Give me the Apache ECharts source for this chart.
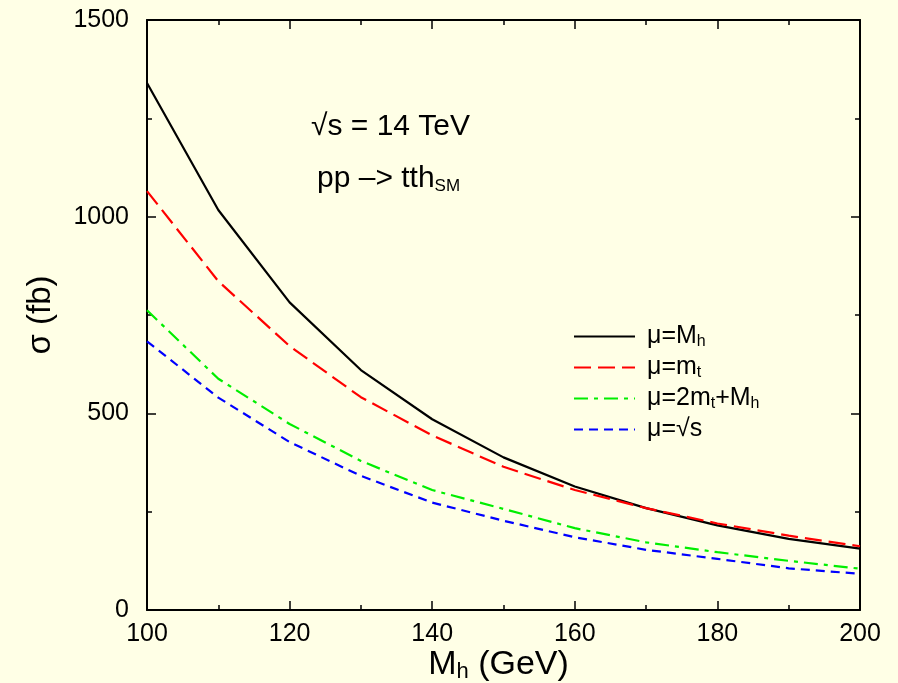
<!DOCTYPE html>
<html>
<head>
<meta charset="utf-8">
<script src="https://cdn.jsdelivr.net/npm/echarts@6/dist/echarts.min.js"></script>
<style>
  html, body { margin: 0; padding: 0; background: #ffffe6; }
  #chart { width: 898px; height: 683px; }
</style>
</head>
<body>
<div id="chart"></div>
<script>
// Higgs mass points (GeV)
const higgsMass = [100, 110, 120, 130, 140, 150, 160, 170, 180, 190, 200];
// Cross sections (fb) for each renormalisation/factorisation scale choice
const sigmaMuMh = [1340, 1017, 782, 610, 485, 388, 314, 259, 215, 181, 156];
const sigmaMuMt = [1065, 836, 671, 541, 444, 364, 305, 259, 220, 189, 162];
const sigmaMu2MtMh = [762, 588, 473, 379, 305, 257, 208, 172, 147, 125, 105];
const sigmaMuSqrtS = [683, 540, 427, 341, 273, 227, 185, 153, 130, 106, 92];
// Axis ticks
const xTicks = [100, 120, 140, 160, 180, 200];
const yTicks = [0, 500, 1000, 1500];

const FONT = '"Liberation Sans", Arial, Helvetica, sans-serif';

const seriesDefs = [
  { name: 'mu_Mh', label: '{a|μ=M}{s|h}', data: sigmaMuMh, color: '#000000', type: 'solid' },
  { name: 'mu_mt', label: '{a|μ=m}{s|t}', data: sigmaMuMt, color: '#ff0000', type: [17, 7] },
  { name: 'mu_2mt_Mh', label: '{a|μ=2m}{s|t}{a|+M}{s|h}', data: sigmaMu2MtMh, color: '#00ee00', type: [14, 6, 4, 6] },
  { name: 'mu_sqrts', label: '{a|μ=√s}', data: sigmaMuSqrtS, color: '#0000ff', type: [9, 6] }
];
const legendLabels = {};
seriesDefs.forEach(d => { legendLabels[d.name] = d.label; });

const chart = echarts.init(document.getElementById('chart'), null, { renderer: 'canvas' });

function axisCommon() {
  return {
    axisLine: { show: true, onZero: false, lineStyle: { color: '#000', width: 2 } },
    axisTick: { show: true, inside: true, length: 9, lineStyle: { color: '#000', width: 1.5 } },
    minorTick: { show: true, splitNumber: 2, length: 5, lineStyle: { color: '#000', width: 1.5 } },
    splitLine: { show: false },
    minorSplitLine: { show: false }
  };
}

chart.setOption({
  backgroundColor: '#ffffe6',
  animation: false,
  grid: { left: 147, right: 38, top: 20, bottom: 73, containLabel: false, outerBoundsMode: 'none' },
  xAxis: [
    Object.assign({
      type: 'value', min: 100, max: 200, interval: 20, position: 'bottom',
      name: '{a|M}{s|h}{a| (GeV)}',
      nameLocation: 'middle', nameGap: 37, nameMoveOverlap: false,
      nameTextStyle: {
        fontFamily: FONT, color: '#000', padding: [0, 10, 0, 0],
        rich: {
          a: { fontFamily: FONT, fontSize: 34, lineHeight: 36, color: '#000' },
          s: { fontFamily: FONT, fontSize: 22, lineHeight: 22, color: '#000', verticalAlign: 'bottom', padding: [18, 0, 0, 0] }
        }
      },
      axisLabel: {
        show: true, margin: 12, fontFamily: FONT, fontSize: 25, color: '#000',
        customValues: xTicks, formatter: v => String(v)
      }
    }, axisCommon()),
    Object.assign({
      type: 'value', min: 100, max: 200, interval: 20, position: 'top',
      axisLabel: { show: false }
    }, axisCommon())
  ],
  yAxis: [
    Object.assign({
      type: 'value', min: 0, max: 1500, interval: 500, position: 'left',
      name: 'σ (fb)', nameLocation: 'middle', nameGap: 90, nameRotate: 90,
      nameMoveOverlap: false,
      nameTextStyle: { fontFamily: FONT, fontSize: 33, color: '#000' },
      axisLabel: {
        show: true, margin: 18, fontFamily: FONT, fontSize: 25, color: '#000',
        customValues: yTicks, formatter: v => String(v)
      }
    }, axisCommon()),
    Object.assign({
      type: 'value', min: 0, max: 1500, interval: 500, position: 'right',
      axisLabel: { show: false }
    }, axisCommon())
  ],
  legend: {
    show: true, orient: 'vertical', left: 573, top: 324, padding: 0,
    itemWidth: 61, itemHeight: 14, itemGap: 5,
    itemStyle: { opacity: 0 },
    data: seriesDefs.map(d => d.name),
    formatter: name => legendLabels[name],
    textStyle: {
      fontFamily: FONT, fontSize: 25, color: '#000', padding: [0, 0, 0, 7],
      rich: {
        a: { fontFamily: FONT, fontSize: 25, lineHeight: 27, color: '#000' },
        s: { fontFamily: FONT, fontSize: 16, lineHeight: 16, color: '#000', verticalAlign: 'bottom', padding: [8, 0, 0, 0] }
      }
    }
  },
  graphic: [
    {
      type: 'text', left: 311, top: 112,
      style: { text: '√s = 14 TeV', font: '30px ' + FONT, fill: '#000' }
    },
    {
      type: 'text', left: 317, top: 163,
      style: {
        text: '{a|pp –> tth}{s|SM}',
        fill: '#000',
        rich: {
          a: { fontFamily: FONT, fontSize: 30, lineHeight: 32, fill: '#000' },
          s: { fontFamily: FONT, fontSize: 17, lineHeight: 17, fill: '#000', verticalAlign: 'bottom', padding: [15, 0, 0, 0] }
        }
      }
    }
  ],
  series: seriesDefs.map(d => ({
    name: d.name,
    type: 'line',
    xAxisIndex: 0, yAxisIndex: 0,
    data: higgsMass.map((m, i) => [m, d.data[i]]),
    showSymbol: false, symbol: 'none', smooth: false,
    lineStyle: { color: d.color, width: 2.2, type: d.type },
    itemStyle: { color: d.color }
  }))
});
</script>
</body>
</html>
